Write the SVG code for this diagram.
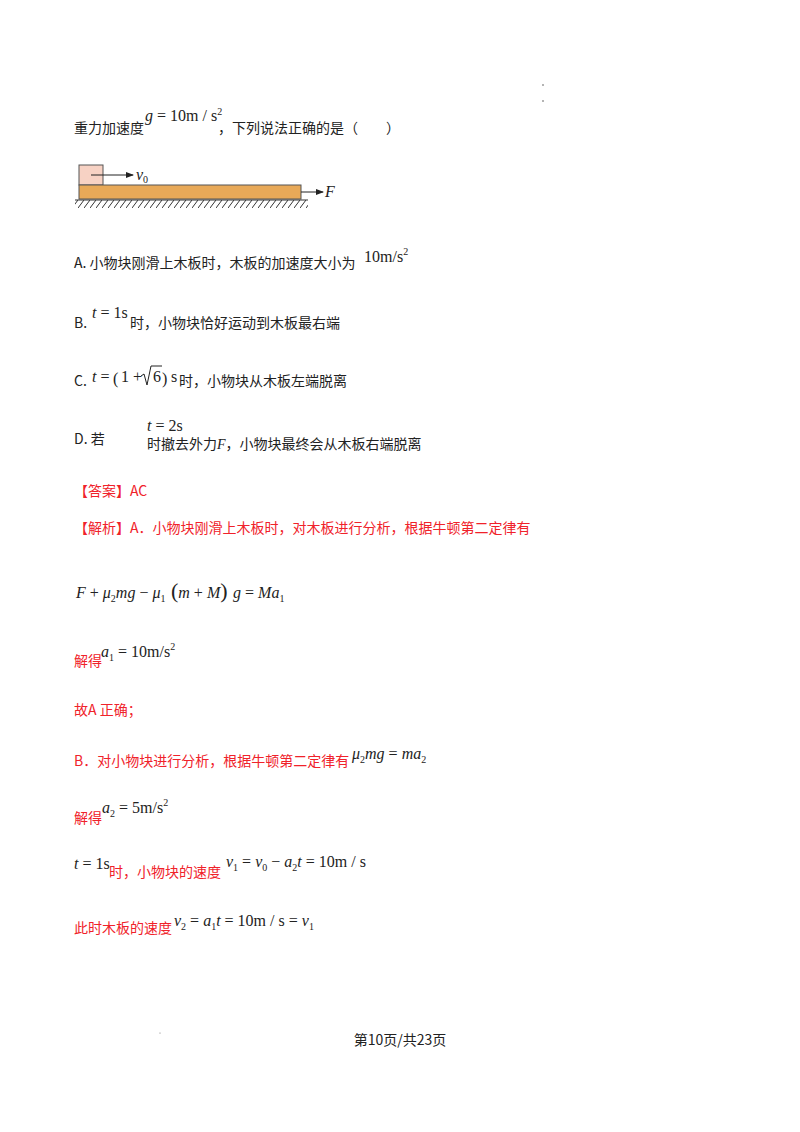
<svg xmlns="http://www.w3.org/2000/svg" width="800" height="1132" viewBox="0 0 800 1132">
<style>
.cn{font-family:"Noto Sans CJK SC","Noto Sans",sans-serif;font-size:14px;fill:#222}
.r{fill:#f0222a}
.m{font-family:"Liberation Serif",serif;font-size:16px;fill:#222}
.i{font-style:italic}
.sb{font-size:10px}
</style>
<defs><marker id="ah" markerWidth="8" markerHeight="6" refX="7" refY="3" orient="auto"><path d="M0,0L8,3L0,6z" fill="#222"/></marker>
<pattern id="hatch" width="6" height="8" patternUnits="userSpaceOnUse"><path d="M6,0L0,8" stroke="#333" stroke-width="1"/></pattern></defs>
<rect width="800" height="1132" fill="#fff"/>
<circle cx="543" cy="85" r="0.8" fill="#555"/><circle cx="543" cy="101" r="0.8" fill="#555"/>
<text class="cn" x="74" y="133">重力加速度</text>
<text class="m" x="145" y="121" font-size="14"><tspan class="i">g</tspan> = 10m / s<tspan class="sb" dy="-6">2</tspan></text>
<text class="cn" x="218" y="133">，下列说法正确的是（　　）</text>
<g id="figure">
<rect x="79" y="165" width="24" height="20" fill="#f7d2c4" stroke="#555"/>
<rect x="79" y="185" width="222" height="14" fill="#e8a958" stroke="#555"/>
<rect x="75" y="200" width="233" height="8" fill="url(#hatch)"/>
<line x1="75" y1="200" x2="308" y2="200" stroke="#333"/>
<line x1="91" y1="175" x2="133" y2="175" stroke="#222" marker-end="url(#ah)"/>
<text class="m i" x="136" y="180" font-size="13">v<tspan class="sb" dy="3" font-style="normal">0</tspan></text>
<line x1="301" y1="192" x2="323" y2="192" stroke="#222" marker-end="url(#ah)"/>
<text class="m i" x="325" y="197" font-size="14">F</text>
</g>
<text class="cn" x="74" y="268">A.  小物块刚滑上木板时，木板的加速度大小为</text>
<text class="m" x="364" y="262" font-size="17">10m/s<tspan class="sb" dy="-7">2</tspan></text>
<text class="cn" x="74" y="328">B.</text>
<text class="m" x="92" y="318" font-size="17"><tspan class="i">t</tspan> = 1s</text>
<text class="cn" x="130" y="328">时，小物块恰好运动到木板最右端</text>
<text class="cn" x="74" y="386">C.</text>
<text class="m" x="92" y="382" font-size="17"><tspan class="i">t</tspan> =</text>
<text class="m" x="113" y="384" font-size="24">(</text>
<text class="m" x="121" y="382" font-size="17">1 +</text>
<path d="M141,376 L144,374 L147,385 L151,366 L162,366" fill="none" stroke="#222" stroke-width="1"/>
<text class="m" x="153" y="382" font-size="17">6</text>
<text class="m" x="162" y="384" font-size="24">)</text>
<text class="m" x="171" y="382" font-size="17">s</text>
<text class="cn" x="179" y="386">时，小物块从木板左端脱离</text>
<text class="cn" x="74" y="444">D.  若</text>
<text class="m" x="147" y="431" font-size="17"><tspan class="i">t</tspan> = 2s</text>
<text class="cn" x="147" y="449">时撤去外力<tspan font-family="Liberation Serif" font-style="italic">F</tspan>，小物块最终会从木板右端脱离</text>
<text class="cn r" x="74" y="496">【答案】AC</text>
<text class="cn r" x="74" y="533">【解析】A．小物块刚滑上木板时，对木板进行分析，根据牛顿第二定律有</text>
<text class="m i" x="76" y="598" font-size="18">F<tspan font-style="normal"> + </tspan>μ<tspan class="sb" dy="4" font-style="normal">2</tspan><tspan dy="-4">mg</tspan><tspan font-style="normal"> − </tspan>μ<tspan class="sb" dy="4" font-style="normal">1</tspan><tspan dy="-4" font-style="normal" font-size="22"> (</tspan><tspan>m</tspan><tspan font-style="normal"> + </tspan>M<tspan font-style="normal" font-size="22">) </tspan>g<tspan font-style="normal"> = </tspan>Ma<tspan class="sb" dy="4" font-style="normal">1</tspan></text>
<text class="cn r" x="74" y="666">解得</text>
<text class="m" x="101" y="657" font-size="17"><tspan class="i">a</tspan><tspan class="sb" dy="4">1</tspan><tspan dy="-4"> = 10m/s</tspan><tspan class="sb" dy="-7">2</tspan></text>
<text class="cn r" x="74" y="715">故A 正确；</text>
<text class="cn r" x="74" y="766">B．对小物块进行分析，根据牛顿第二定律有</text>
<text class="m i" x="352" y="759" font-size="17">μ<tspan class="sb" dy="4" font-style="normal">2</tspan><tspan dy="-4">mg</tspan><tspan font-style="normal"> = </tspan>ma<tspan class="sb" dy="4" font-style="normal">2</tspan></text>
<text class="cn r" x="74" y="823">解得</text>
<text class="m" x="102" y="813" font-size="16"><tspan class="i">a</tspan><tspan class="sb" dy="4">2</tspan><tspan dy="-4"> = 5m/s</tspan><tspan class="sb" dy="-7">2</tspan></text>
<text class="m" x="74" y="869" font-size="17"><tspan class="i">t</tspan> = 1s</text>
<text class="cn r" x="109" y="877">时，小物块的速度</text>
<text class="m" x="226" y="867" font-size="17"><tspan class="i">v</tspan><tspan class="sb" dy="4">1</tspan><tspan dy="-4"> = </tspan><tspan class="i">v</tspan><tspan class="sb" dy="4">0</tspan><tspan dy="-4"> − </tspan><tspan class="i">a</tspan><tspan class="sb" dy="4">2</tspan><tspan class="i" dy="-4">t</tspan> = 10m / s</text>
<text class="cn r" x="74" y="933">此时木板的速度</text>
<text class="m" x="174" y="926" font-size="17"><tspan class="i">v</tspan><tspan class="sb" dy="4">2</tspan><tspan dy="-4"> = </tspan><tspan class="i">a</tspan><tspan class="sb" dy="4">1</tspan><tspan class="i" dy="-4">t</tspan> = 10m / s = <tspan class="i">v</tspan><tspan class="sb" dy="4">1</tspan></text>
<circle cx="160" cy="1033" r="0.6" fill="#777"/>
<text class="cn" x="400" y="1045" text-anchor="middle">第10页/共23页</text>
</svg>
